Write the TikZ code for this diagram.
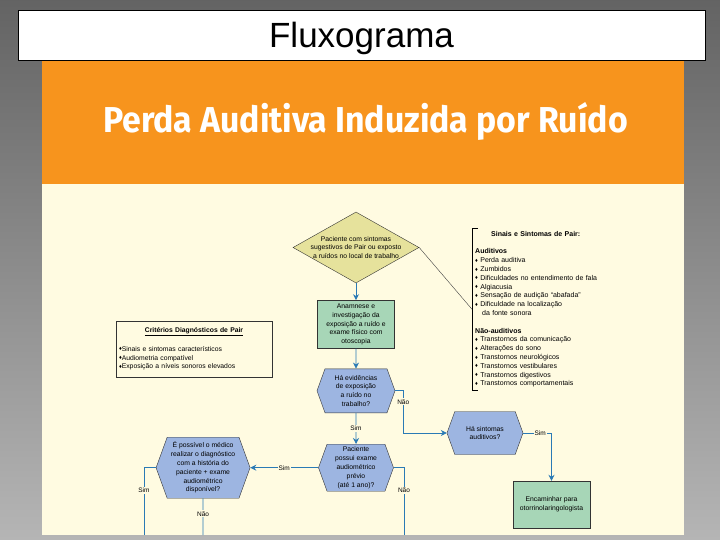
\documentclass[tikz,border=0pt]{standalone}
\usepackage{fontspec}
\setmainfont{Liberation Sans}
\newfontfamily\bannerfont{Fira Sans}
\usetikzlibrary{shapes,arrows,arrows.meta,positioning,calc}

\definecolor{bannerorange}{HTML}{F7941D}
\definecolor{paper}{HTML}{FFFBE1}
\definecolor{askkhaki}{HTML}{E6E29C}
\definecolor{actgreen}{HTML}{A7D6B7}
\definecolor{askblue}{HTML}{9DB5E1}
\definecolor{flowblue}{HTML}{2A7AB5}

\newcommand{\itemmark}{\raisebox{0.4pt}{\fontsize{5.5}{5.5}\selectfont ♦}}

\begin{document}
\begin{tikzpicture}[
    x=1pt, y=-1pt,
    font=\fontsize{6.8}{8.8}\selectfont,
    start/.style={draw=black!80, fill=askkhaki, diamond, aspect=1.77, minimum width=126pt, minimum height=71pt, inner sep=-2pt, align=center},
    action/.style={draw=black!80, fill=actgreen, rectangle, inner sep=1pt, align=center},
    question/.style={draw=black!80, fill=askblue, signal, signal to=west and east, signal pointer angle=140, inner sep=1pt, align=center},
    flow/.style={draw=flowblue, line width=0.8pt, ->, >={Stealth[length=6pt,width=6pt]}},
    route/.style={draw=flowblue, line width=0.8pt},
    answer/.style={fill=paper, inner sep=1pt, font=\fontsize{6.5}{8}\selectfont}
]
\useasboundingbox (0,0) rectangle (720,540);

% slide background
\shade[top color=black!61, bottom color=black!29] (0,0) rectangle (720,540);
\fill[bannerorange] (42,60) rectangle (684,184);
\fill[paper] (42,184) rectangle (684,535);

\node[draw=black, fill=white, minimum width=687pt, minimum height=50pt, inner sep=0pt, text height=25.5pt, text depth=0pt, font=\fontsize{35}{40}\selectfont] (slide) at (361.5,35) {Fluxograma};
\node[anchor=base, text=white, font=\bannerfont\bfseries\fontsize{36}{40}\selectfont] (banner) at (365.5,133) {\scalebox{0.94}[1]{Perda Auditiva Induzida por Ruído}};

% flow
\node[start] (suspeita) at (356,247.5) {Paciente com sintomas\\sugestivos de Pair ou exposto\\a ruídos no local de trabalho};
\node[action, below=17pt of suspeita, minimum width=77pt, minimum height=48pt] (anamnese) {Anamnese e\\investigação da\\exposição a ruído e\\exame físico com\\otoscopia};
\node[question, below=20pt of anamnese, minimum width=78pt, minimum height=44pt] (exposicao) {Há evidências\\de exposição\\a ruído no\\trabalho?};
\node[question, below=31pt of exposicao, minimum width=75pt, minimum height=47pt] (previo) {Paciente\\possui exame\\audiométrico\\prévio\\(até 1 ano)?};
\node[question, left=68pt of previo, minimum width=94pt, minimum height=61pt] (diagnostico) {É possível o médico\\realizar o diagnóstico\\com a história do\\paciente + exame\\audiométrico\\disponível?};
\node[question, minimum width=76pt, minimum height=43pt] (auditivos) at (485,433) {Há sintomas\\auditivos?};
\node[action, minimum width=77pt, minimum height=47pt] (encaminhar) at (551.5,504.5) {Encaminhar para\\otorrinolaringologista};

% side notes
\node[anchor=north west, text width=150pt, inner xsep=3pt, inner ysep=3pt, font=\fontsize{7}{8.8}\selectfont] (sinais) at (472,228) {\hspace*{16pt}\textbf{Sinais e Sintomas de Pair:}\\[8.8pt]
\textbf{Auditivos}\\
\itemmark\ Perda auditiva\\
\itemmark\ Zumbidos\\
\itemmark\ Dificuldades no entendimento de fala\\
\itemmark\ Algiacusia\\
\itemmark\ Sensação de audição “abafada”\\
\itemmark\ Dificuldade na localização\\
\hspace*{7pt}da fonte sonora\\[8.8pt]
\textbf{Não-auditivos}\\
\itemmark\ Transtornos da comunicação\\
\itemmark\ Alterações do sono\\
\itemmark\ Transtornos neurológicos\\
\itemmark\ Transtornos vestibulares\\
\itemmark\ Transtornos digestivos\\
\itemmark\ Transtornos comportamentais};
\node[draw=black!80, text width=150pt, minimum height=56pt, inner xsep=3pt, inner ysep=4pt] (criterios) at (194,349) {\centering\textbf{\underline{Critérios Diagnósticos de Pair}}\par\vspace{10pt}\raggedright
\itemmark Sinais e sintomas característicos\\
\itemmark Audiometria compatível\\
\itemmark Exposição a níveis sonoros elevados};

\coordinate (fimSim) at (144,535);
\coordinate (fimNao) at (404,535);
\coordinate (fimDiag) at (diagnostico.south |- fimSim);

\draw[black!75, line width=0.4pt] (suspeita.east) -- (sinais.west);
\draw[black, line width=0.6pt] ($(sinais.north west)+(6,0)$) -- (sinais.north west) -- (sinais.south west) -- ++(6,0);

\draw[flow] (suspeita) -- (anamnese);
\draw[flow] (anamnese) -- (exposicao);
\draw[flow] (exposicao) -- node[answer]{Sim} (previo);
\draw[flow] (exposicao.east) -- ++(8,0) |- node[answer, pos=0.13]{Não} (auditivos.west);
\draw[flow] (auditivos.east) -| node[answer, pos=0.3]{Sim} (encaminhar.north);
\draw[flow] (previo.west) -- node[answer]{Sim} (diagnostico.east);
\draw[route] (previo.east) -| node[answer, pos=0.67]{Não} (fimNao);
\draw[route] (diagnostico.west) -| node[answer, pos=0.67]{Sim} (fimSim);
\draw[route] (diagnostico) -- node[answer, pos=0.42]{Não} (fimDiag);

\end{tikzpicture}
\end{document}
